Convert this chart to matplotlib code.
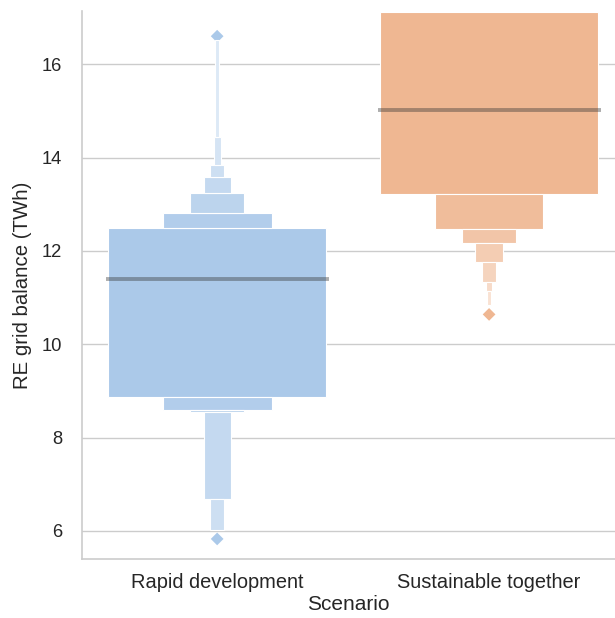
import matplotlib
matplotlib.use("Agg")
import matplotlib.pyplot as plt
import matplotlib.colors as mcolors
import numpy as np

plt.rcParams['font.family'] = ['Liberation Sans', 'DejaVu Sans']

# ---- data (letter-value edges) ----
categories = ["Rapid development", "Sustainable together"]
medians = [11.39, 15.01]
# edges going outward from the central (IQR) box: first value = box edge, then each further level
upper_edges = [
    [12.50, 12.82, 13.25, 13.58, 13.85, 14.43, 16.52],
    [17.12],
]
lower_edges = [
    [8.88, 8.60, 8.55, 6.69, 6.02],
    [13.23, 12.48, 12.16, 11.77, 11.34, 11.15, 10.85],
]
outliers = [
    [16.60, 5.83],
    [10.64],
]
x_label = "Scenario"
y_label = "RE grid balance (TWh)"
y_ticks = [6, 8, 10, 12, 14, 16]

# ---- style ----
main_colors = ["#abc9e9", "#efb792"]
full_width = 0.8
min_width = 0.011
fades = [0.0, 0.08, 0.2, 0.3, 0.4, 0.5, 0.6, 0.7, 0.8]

def fade(c, t):
    r = np.array(mcolors.to_rgb(c))
    return tuple(r * (1 - t) + t)

fig = plt.figure(figsize=(6.15, 6.18), dpi=100)
ax = fig.add_axes([82/615, 59/618, 533/615, 548/618])

for i, cat in enumerate(categories):
    col = main_colors[i]
    # fliers (below boxes)
    ax.scatter([i] * len(outliers[i]), outliers[i], marker="D", s=42,
               color=col, edgecolor="none", zorder=2)
    # central box
    lo0, hi0 = lower_edges[i][0], upper_edges[i][0]
    ax.bar(i, hi0 - lo0, bottom=lo0, width=full_width, color=col,
           edgecolor="white", linewidth=0.8, zorder=3)
    # outer levels above
    up = upper_edges[i]
    for k in range(1, len(up)):
        w = max(full_width * 0.5 ** k, min_width)
        ax.bar(i, up[k] - up[k-1], bottom=up[k-1], width=w,
               color=fade(col, fades[k]), edgecolor="white", linewidth=0.8, zorder=3)
    lo = lower_edges[i]
    for k in range(1, len(lo)):
        w = max(full_width * 0.5 ** k, min_width * 0.7)
        ax.bar(i, lo[k-1] - lo[k], bottom=lo[k], width=w,
               color=fade(col, fades[k]), edgecolor="white", linewidth=0.8, zorder=3)
    # median
    ax.plot([i - full_width / 2 - 0.01, i + full_width / 2 + 0.01], [medians[i]] * 2,
            color="0.2", alpha=0.4, linewidth=2.8, solid_capstyle="butt", zorder=4)

ax.set_xlim(-0.497, 1.463)
ax.set_ylim(5.4, 17.14)
ax.set_xticks(range(len(categories)))
ax.set_xticklabels(categories)
ax.set_yticks(y_ticks)
ax.set_xlabel(x_label, fontsize=15, color="0.15", labelpad=2.5)
ax.set_ylabel(y_label, fontsize=14.7, color="0.15", labelpad=7)
ax.tick_params(axis="x", length=0, labelsize=14.4, labelcolor="0.15", pad=10)
ax.tick_params(axis="y", length=0, labelsize=13.2, labelcolor="0.15", pad=14.2)
ax.grid(axis="y", color="#cccccc", linewidth=1.0, zorder=0)
ax.set_axisbelow(True)
for s in ["top", "right"]:
    ax.spines[s].set_visible(False)
for s in ["left", "bottom"]:
    ax.spines[s].set_color("#cccccc")
    ax.spines[s].set_linewidth(1.2)

fig.savefig("out.png", dpi=100)
